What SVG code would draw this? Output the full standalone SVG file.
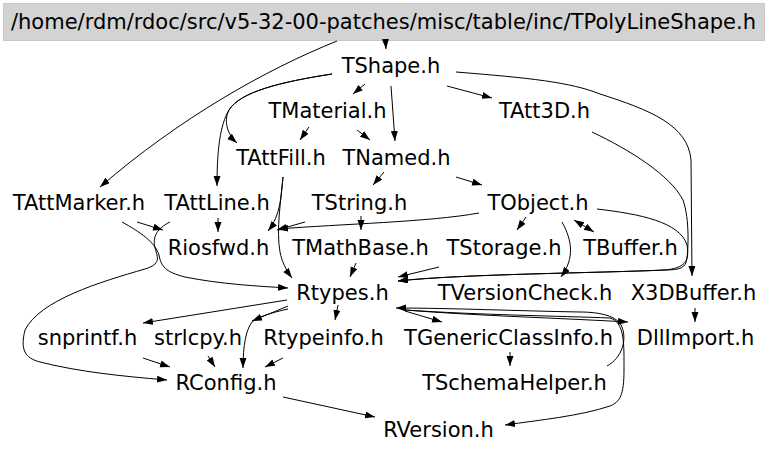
<svg xmlns="http://www.w3.org/2000/svg" width="768" height="453" viewBox="0 0 768 453">
<style>
text{font-family:"DejaVu Sans",sans-serif;font-size:21px;fill:#000;text-anchor:middle}
.e path{fill:none;stroke:#000;stroke-width:1;marker-end:url(#ah)}
</style>
<defs>
<marker id="ah" markerUnits="userSpaceOnUse" markerWidth="10" markerHeight="8" refX="10" refY="3.5" orient="auto"><path d="M0,0 L10,3.5 L0,7 z" fill="#000"/></marker>
<marker id="as" markerUnits="userSpaceOnUse" markerWidth="10" markerHeight="8" refX="10" refY="3.5" orient="auto-start-reverse"><path d="M0,0 L10,3.5 L0,7 z" fill="#000"/></marker>
</defs>
<rect width="768" height="453" fill="#fff"/>
<g id="n_title"><rect x="3.5" y="3.5" width="761" height="37" fill="#d3d3d3" stroke="#c8c8c8"/><text x="383.5" y="29">/home/rdm/rdoc/src/v5-32-00-patches/misc/table/inc/TPolyLineShape.h</text></g>
<g class="e" id="edges">
<path d="M385.5,41 L386,49"/>
<path d="M337,41 C265,70 180,118 100,187"/>
<path d="M365,84 L353,94"/>
<path d="M391,86 L395,141"/>
<path d="M447,86 L492,98"/>
<path d="M456,72 C530,78 570,82 600,94 C650,110 688,125 691,160 L692,276"/>
<path d="M332,74 C280,82 240,92 229,110 C223,122 228,135 237,143"/>
<path d="M332,74 C280,82 240,92 229,110 C220,125 217,150 217,186"/>
<path d="M309,127 L300,140"/>
<path d="M357,130 L370,140"/>
<path d="M384,172 L373,185"/>
<path d="M456,177 L482,185"/>
<path d="M137,222 L163,230"/>
<path d="M122,222 C140,232 155,242 159,255 C161,266 165,272 185,277 C220,284 255,286 288,288"/>
<path d="M170,222 C158,228 152,236 155,248 C158,258 161,264 145,269 C100,282 40,300 25,330 C20,350 25,358 40,362 C80,372 120,376 167,380"/>
<path d="M218,218 L218,232"/>
<path d="M283,177 C281,195 281,215 268,231"/>
<path d="M283,177 C281,200 276,230 280,252 C282,262 286,270 292,278"/>
<path d="M305,222 L277,230"/>
<path d="M479,213 C430,222 340,224 278,229"/>
<path d="M361,216 L361,230"/>
<path d="M356,263 L350,277"/>
<path d="M526,217 L517,230"/>
<path d="M574,220 L594,232" style="marker-start:url(#as)"/>
<path d="M562,222 C572,240 575,258 561,277"/>
<path d="M597,209 C640,214 680,222 687,245 C690,262 684,268 665,270 C600,273 460,274 398,281"/>
<path d="M592,132 C630,150 670,175 683,200 C690,220 688,250 687,258 C686,268 680,270 665,270 C600,273 460,274 398,281"/>
<path d="M439,267 L398,277"/>
<path d="M695,308 L695,322"/>
<path d="M287,300 L143,323"/>
<path d="M288,306 L252,321"/>
<path d="M288,309 C270,313 258,317 252,322 C246,330 243,345 243,368"/>
<path d="M338,305 L335,320"/>
<path d="M405,311 L442,322"/>
<path d="M405,310 C480,316 560,318 628,322"/>
<path d="M607,366 C622,358 627,340 622,327 C618,316 600,312 580,312 C520,311 450,308 396,308"/>
<path d="M405,310 C480,315 560,316 610,318 C625,322 624,345 624,370 C624,395 620,402 610,406 C580,416 540,420 505,425"/>
<path d="M283,397 L375,417"/>
<path d="M283,358 L265,367"/>
<path d="M208,356 L215,367"/>
<path d="M143,358 L170,367"/>
<path d="M510,352 L510,366"/>
</g>
<g id="n_TShape"><text x="391" y="73">TShape.h</text></g>
<g id="n_TMaterial"><text x="327.5" y="118">TMaterial.h</text></g>
<g id="n_TAtt3D"><text x="544.5" y="118">TAtt3D.h</text></g>
<g id="n_TAttFill"><text x="281" y="165">TAttFill.h</text></g>
<g id="n_TNamed"><text x="396.5" y="165">TNamed.h</text></g>
<g id="n_TAttMarker"><text x="79" y="210">TAttMarker.h</text></g>
<g id="n_TAttLine"><text x="217" y="210">TAttLine.h</text></g>
<g id="n_TString"><text x="359.5" y="210">TString.h</text></g>
<g id="n_TObject"><text x="538" y="210">TObject.h</text></g>
<g id="n_Riosfwd"><text x="218.5" y="255">Riosfwd.h</text></g>
<g id="n_TMathBase"><text x="360.5" y="255">TMathBase.h</text></g>
<g id="n_TStorage"><text x="504" y="255">TStorage.h</text></g>
<g id="n_TBuffer"><text x="630.5" y="255">TBuffer.h</text></g>
<g id="n_Rtypes"><text x="342.5" y="300">Rtypes.h</text></g>
<g id="n_TVersionCheck"><text x="525" y="300">TVersionCheck.h</text></g>
<g id="n_X3DBuffer"><text x="693.5" y="300">X3DBuffer.h</text></g>
<g id="n_snprintf"><text x="87.5" y="345">snprintf.h</text></g>
<g id="n_strlcpy"><text x="198" y="345">strlcpy.h</text></g>
<g id="n_Rtypeinfo"><text x="323.5" y="345">Rtypeinfo.h</text></g>
<g id="n_TGenericClassInfo"><text x="508.5" y="345">TGenericClassInfo.h</text></g>
<g id="n_DllImport"><text x="695.5" y="345">DllImport.h</text></g>
<g id="n_RConfig"><text x="226" y="390">RConfig.h</text></g>
<g id="n_TSchemaHelper"><text x="514.5" y="390">TSchemaHelper.h</text></g>
<g id="n_RVersion"><text x="438.5" y="437">RVersion.h</text></g>
</svg>
